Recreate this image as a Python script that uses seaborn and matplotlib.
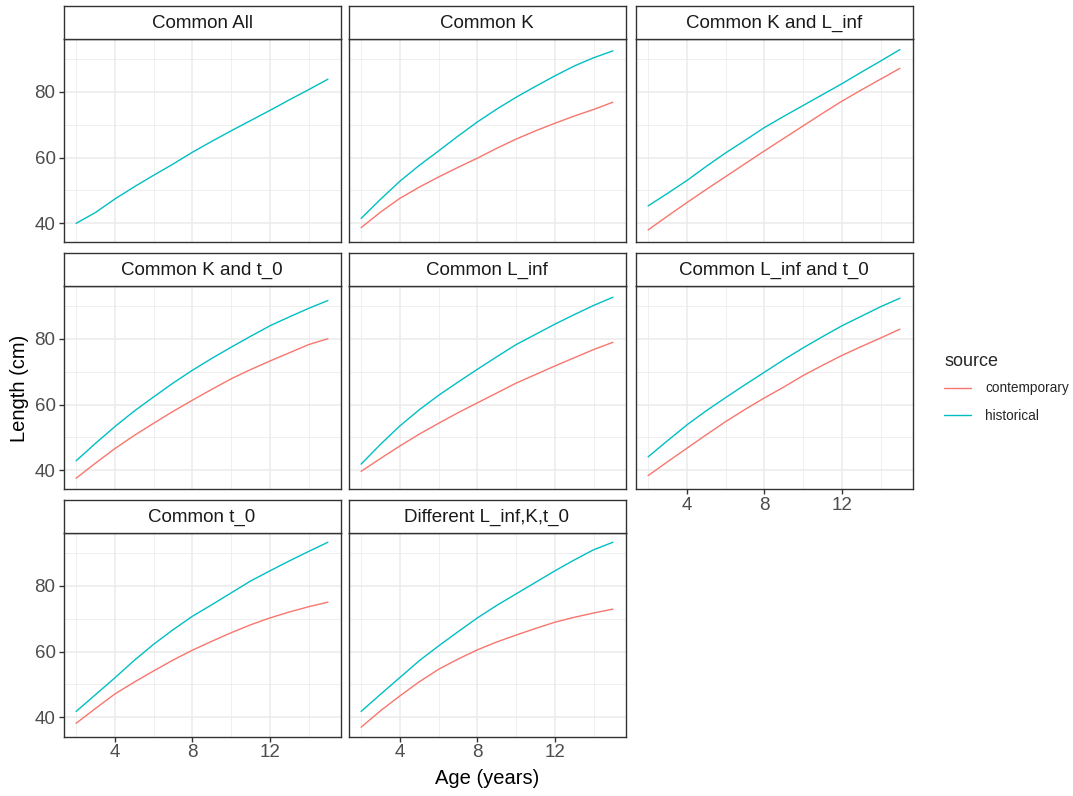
import numpy as np
import pandas as pd
import matplotlib
matplotlib.use("Agg")
import matplotlib.pyplot as plt
from matplotlib.lines import Line2D
import seaborn as sns

# ---- data: predicted length-at-age by model and source ----
ages = list(range(2, 16))

models = ["Common All", "Common K", "Common K and L_inf", "Common K and t_0",
          "Common L_inf", "Common L_inf and t_0", "Common t_0", "Different L_inf,K,t_0"]

common_all_hist = [40.0, 43.3, 47.4, 51.1, 54.6, 58.0, 61.6, 64.9, 68.1, 71.2, 74.3, 77.5, 80.6, 83.8]

common_k_hist = [41.5, 47.3, 52.8, 57.6, 62.0, 66.5, 70.8, 74.7, 78.3, 81.6, 84.8, 87.8, 90.3, 92.4]
common_k_cont = [38.7, 43.4, 47.6, 51.0, 54.1, 57.0, 59.8, 62.8, 65.6, 68.1, 70.4, 72.6, 74.6, 76.8]

common_k_linf_hist = [45.3, 49.1, 53.0, 57.3, 61.4, 65.2, 69.1, 72.5, 75.8, 79.1, 82.4, 85.9, 89.3, 92.8]
common_k_linf_cont = [38.0, 42.2, 46.3, 50.3, 54.2, 58.1, 62.0, 65.8, 69.6, 73.4, 77.1, 80.5, 83.8, 87.1]

common_k_t0_hist = [42.9, 48.2, 53.3, 58.0, 62.3, 66.5, 70.4, 74.0, 77.4, 80.7, 83.9, 86.6, 89.2, 91.6]
common_k_t0_cont = [37.6, 42.2, 46.6, 50.6, 54.3, 57.9, 61.3, 64.6, 67.8, 70.6, 73.2, 75.7, 78.2, 80.0]

common_linf_hist = [41.9, 47.9, 53.5, 58.4, 62.8, 66.8, 70.7, 74.5, 78.2, 81.3, 84.4, 87.3, 90.1, 92.6]
common_linf_cont = [39.7, 43.6, 47.4, 51.0, 54.3, 57.5, 60.5, 63.5, 66.5, 69.1, 71.7, 74.2, 76.7, 78.9]

common_linf_t0_hist = [44.1, 49.0, 53.8, 58.1, 62.1, 66.0, 69.8, 73.6, 77.2, 80.6, 83.9, 86.8, 89.7, 92.3]
common_linf_t0_cont = [38.4, 42.6, 46.7, 50.8, 54.8, 58.5, 62.0, 65.3, 68.8, 71.9, 74.9, 77.6, 80.2, 82.9]

common_t0_hist = [41.8, 46.9, 52.0, 57.3, 62.2, 66.6, 70.7, 74.2, 77.8, 81.4, 84.5, 87.5, 90.4, 93.2]
common_t0_cont = [38.2, 42.7, 47.1, 50.7, 54.1, 57.4, 60.4, 63.1, 65.7, 68.1, 70.2, 72.0, 73.6, 75.0]

different_hist = [41.8, 47.0, 52.1, 57.2, 61.7, 66.0, 70.2, 74.0, 77.5, 81.0, 84.5, 87.8, 90.9, 93.2]
different_cont = [37.0, 42.0, 46.5, 50.8, 54.6, 57.7, 60.5, 62.9, 65.0, 67.0, 68.9, 70.4, 71.7, 72.9]

series = {
    ("Common All", "historical"): common_all_hist,
    ("Common K", "contemporary"): common_k_cont,
    ("Common K", "historical"): common_k_hist,
    ("Common K and L_inf", "contemporary"): common_k_linf_cont,
    ("Common K and L_inf", "historical"): common_k_linf_hist,
    ("Common K and t_0", "contemporary"): common_k_t0_cont,
    ("Common K and t_0", "historical"): common_k_t0_hist,
    ("Common L_inf", "contemporary"): common_linf_cont,
    ("Common L_inf", "historical"): common_linf_hist,
    ("Common L_inf and t_0", "contemporary"): common_linf_t0_cont,
    ("Common L_inf and t_0", "historical"): common_linf_t0_hist,
    ("Common t_0", "contemporary"): common_t0_cont,
    ("Common t_0", "historical"): common_t0_hist,
    ("Different L_inf,K,t_0", "contemporary"): different_cont,
    ("Different L_inf,K,t_0", "historical"): different_hist,
}

rows = []
for (model, source), vals in series.items():
    for a, v in zip(ages, vals):
        rows.append({"model": model, "source": source, "age": a, "length": v})
df = pd.DataFrame(rows)

palette = {"contemporary": "#F8766D", "historical": "#00BFC4"}

# ---- styling ----
sns.set_theme(style="white")
plt.rcParams["font.family"] = ["Liberation Sans", "DejaVu Sans"]

W, H = 1073, 796
fig = plt.figure(figsize=(W / 100, H / 100), dpi=100)

col_left = [63.5, 348.5, 635.5]
panel_w = 277.0
panel_top = [39.0, 286.0, 533.0]
panel_h = 203.5
strip_h = 33.0

ymin, ymax = df["length"].min(), df["length"].max()
ypad = (ymax - ymin) * 0.05
xpad = (max(ages) - min(ages)) * 0.05

border = "#333333"
grid_c = "#EBEBEB"
tick_c = "#4D4D4D"

for i, model in enumerate(models):
    r, c = divmod(i, 3)
    x0 = col_left[c]
    y0 = panel_top[r]
    ax = fig.add_axes([x0 / W, 1 - (y0 + panel_h) / H, panel_w / W, panel_h / H])
    sub = df[df["model"] == model]
    sns.lineplot(data=sub, x="age", y="length", hue="source", palette=palette,
                 linewidth=1.0, legend=False, ax=ax)
    ax.set_xlim(min(ages) - xpad, max(ages) + xpad)
    ax.set_ylim(ymin - ypad, ymax + ypad)
    ax.set_xticks([4, 8, 12])
    ax.set_yticks([40, 60, 80])
    ax.set_xticks([2, 6, 10, 14], minor=True)
    ax.set_yticks([50, 70, 90], minor=True)
    ax.grid(True, which="major", color=grid_c, linewidth=1.1)
    ax.grid(True, which="minor", color=grid_c, linewidth=0.55)
    ax.set_axisbelow(True)
    for sp in ax.spines.values():
        sp.set_color(border)
        sp.set_linewidth(1.0)
    ax.set_xlabel("")
    ax.set_ylabel("")
    show_y = (c == 0)
    show_x = (i + 3 >= len(models))
    ax.tick_params(axis="both", which="minor", length=0)
    ax.tick_params(axis="y", which="major", left=show_y, labelleft=show_y,
                   length=3.7, width=1.0, color=border, labelcolor=tick_c,
                   labelsize=13.5, pad=2)
    ax.tick_params(axis="x", which="major", bottom=show_x, labelbottom=show_x,
                   length=3.7, width=1.0, color=border, labelcolor=tick_c,
                   labelsize=13.5, pad=2)

    # facet strip
    sax = fig.add_axes([x0 / W, 1 - y0 / H, panel_w / W, strip_h / H])
    sax.set_xticks([])
    sax.set_yticks([])
    sax.set_facecolor("white")
    for sp in sax.spines.values():
        sp.set_color(border)
        sp.set_linewidth(1.0)
    sax.text(0.5, 0.48, model, ha="center", va="center", fontsize=13.5,
             color="#1A1A1A", transform=sax.transAxes)

# axis titles
fig.text(487 / W, 1 - 778 / H, "Age (years)", ha="center", va="center",
         fontsize=14.5, color="black")
fig.text(20 / W, 1 - 388 / H, "Length (cm)", ha="center", va="center",
         rotation=90, fontsize=14.5, color="black")

# legend
handles = [Line2D([], [], color=palette[s], linewidth=1.0) for s in ["contemporary", "historical"]]
leg = fig.legend(handles, ["contemporary", "historical"], title="source",
                 loc="upper left", bbox_to_anchor=(932 / W, 1 - 341 / H),
                 frameon=False, fontsize=9.8, title_fontsize=13,
                 handlelength=2.0, handletextpad=1.0, labelspacing=1.0,
                 alignment="left")
leg._legend_box.sep = 8

fig.savefig("out.png", dpi=100, facecolor="white")
